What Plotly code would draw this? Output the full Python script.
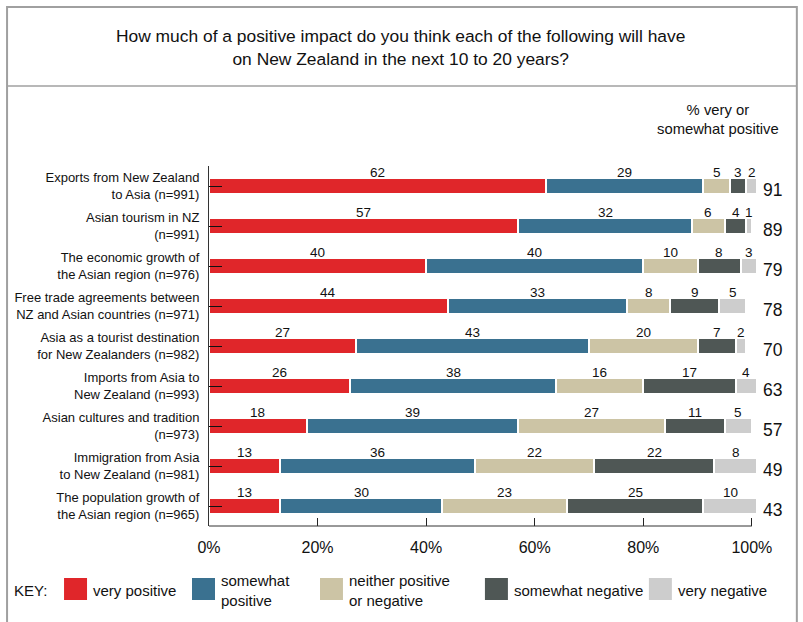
import plotly.graph_objects as go

# Survey items (top to bottom) and response shares (%)
items = [
    "Exports from New Zealand<br>to Asia (n=991)",
    "Asian tourism in NZ<br>(n=991)",
    "The economic growth of<br>the Asian region (n=976)",
    "Free trade agreements between<br>NZ and Asian countries (n=971)",
    "Asia as a tourist destination<br>for New Zealanders (n=982)",
    "Imports from Asia to<br>New Zealand (n=993)",
    "Asian cultures and tradition<br>(n=973)",
    "Immigration from Asia<br>to New Zealand (n=981)",
    "The population growth of<br>the Asian region (n=965)",
]
very_positive = [62, 57, 40, 44, 27, 26, 18, 13, 13]
somewhat_positive = [29, 32, 40, 33, 43, 38, 39, 36, 30]
neither = [5, 6, 10, 8, 20, 16, 27, 22, 23]
somewhat_negative = [3, 4, 8, 9, 7, 17, 11, 22, 25]
very_negative = [2, 1, 3, 5, 2, 4, 5, 8, 10]
pct_positive = [91, 89, 79, 78, 70, 63, 57, 49, 43]

series_names = ["very positive", "somewhat<br>positive", "neither positive<br>or negative",
                "somewhat negative", "very negative"]
series_values = [very_positive, somewhat_positive, neither, somewhat_negative, very_negative]
series_colors = ["#E0262A", "#3A7190", "#CCC4A5", "#4F5755", "#CDCDCD"]

x_ticks = [0, 20, 40, 60, 80, 100]
x_tick_text = ["0%", "20%", "40%", "60%", "80%", "100%"]

FONT = "Liberation Sans, Arial, Helvetica, sans-serif"
INK = "#111111"
W, H = 803, 622
X_MAX = 101.5                  # room for rows whose rounded shares add up to 101
L, T, B = 209, 166, 526        # plot area edges in pixels
R = L + 543 * X_MAX / 100      # 0..100 % spans 543 px


def px(x):
    return (x - L) / (R - L)


def py(y):
    return (B - y) / (B - T)


def label(x, y, text, size, xanchor="center", align="center"):
    return dict(x=px(x), y=py(y), xref="paper", yref="paper", text=text,
                showarrow=False, xanchor=xanchor, yanchor="middle", align=align,
                font=dict(size=size, color=INK, family=FONT))


fig = go.Figure()
for name, vals, col in zip(series_names, series_values, series_colors):
    fig.add_trace(go.Bar(
        y=items, x=vals, orientation="h", name=name,
        marker=dict(color=col, line=dict(color="white", width=2)),
        showlegend=False, hoverinfo="x+y",
    ))

annotations = []
# segment value labels above each bar, plus the positive total on the right
for i, item in enumerate(items):
    cum = 0
    for vals in series_values:
        v = vals[i]
        annotations.append(dict(
            x=cum + v / 2, y=item, xref="x", yref="y", text=str(v),
            showarrow=False, xanchor="center", yanchor="middle", yshift=14,
            font=dict(size=13.5, color=INK, family=FONT),
        ))
        cum += v
    annotations.append(dict(
        x=px(773), y=item, xref="paper", yref="y", text=str(pct_positive[i]),
        showarrow=False, xanchor="center", yanchor="middle", yshift=-4,
        font=dict(size=17.5, color=INK, family=FONT),
    ))

# title and column header
annotations.append(label(
    401, 47,
    "How much of a positive impact do you think each of the following will have<br>"
    "on New Zealand in the next 10 to 20 years?", 17.4))
annotations.append(label(718, 119, "% very or<br>somewhat positive", 14.8))

# key
annotations.append(label(12, 590, "KEY:", 15, xanchor="left"))
shapes = []
key_x = [64, 192, 320, 485, 649]
for kx, name, col in zip(key_x, series_names, series_colors):
    shapes.append(dict(type="rect", xref="paper", yref="paper",
                       x0=px(kx), x1=px(kx + 23), y0=py(600), y1=py(578),
                       fillcolor=col, line=dict(width=0)))
    annotations.append(label(kx + 27, 590, name, 15, xanchor="left", align="left"))

# horizontal axis line, running from 0 % to 100 %
shapes.append(dict(type="line", xref="x", yref="paper", x0=0, x1=100, y0=0, y1=0,
                   line=dict(color="#333", width=1)))

# outer frame and title separator
shapes.append(dict(type="rect", xref="paper", yref="paper",
                   x0=px(7), x1=px(797), y0=py(640), y1=py(7),
                   line=dict(color="#A0A0A0", width=2), layer="below"))
shapes.append(dict(type="line", xref="paper", yref="paper",
                   x0=px(7), x1=px(797), y0=py(86), y1=py(86),
                   line=dict(color="#A0A0A0", width=1.5)))

fig.update_layout(
    width=W, height=H,
    margin=dict(l=L, r=W - R, t=T, b=H - B, pad=0, autoexpand=False),
    barmode="stack", bargap=0.58,
    paper_bgcolor="white", plot_bgcolor="white",
    font=dict(family=FONT, color=INK),
    annotations=annotations, shapes=shapes,
    showlegend=False,
)
fig.update_xaxes(
    range=[0, X_MAX], tickvals=x_ticks, ticktext=x_tick_text, automargin=False,
    ticks="inside", ticklen=8, tickcolor="#222", showline=False,
    showgrid=False, zeroline=False, ticklabelstandoff=10,
    tickfont=dict(size=16, family=FONT, color=INK), fixedrange=True,
)
fig.update_yaxes(
    categoryorder="array", categoryarray=items, range=[8.5, -0.5], automargin=False,
    ticks="inside", ticklen=13, tickcolor="#111", showline=True, linecolor="#333",
    linewidth=1, showgrid=False, ticklabelstandoff=6,
    tickfont=dict(size=13, family=FONT, color=INK), fixedrange=True,
)

fig.write_html("out.html")
